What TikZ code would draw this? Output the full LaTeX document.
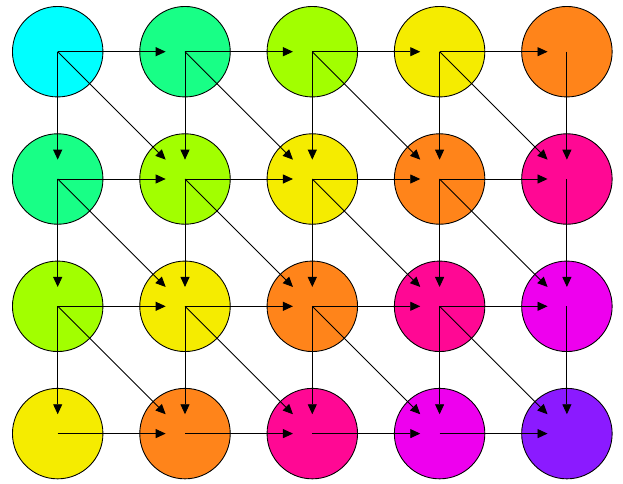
\documentclass[tikz,border=0pt]{standalone}
\usetikzlibrary{arrows.meta}
\definecolor{c0}{RGB}{0,255,255}
\definecolor{c1}{RGB}{24,255,134}
\definecolor{c2}{RGB}{162,255,0}
\definecolor{c3}{RGB}{245,236,0}
\definecolor{c4}{RGB}{255,132,26}
\definecolor{c5}{RGB}{255,8,148}
\definecolor{c6}{RGB}{238,0,238}
\definecolor{c7}{RGB}{139,26,255}
\begin{document}
\begin{tikzpicture}[x=0.02cm,y=-0.02cm,
    cell/.style={circle,draw,line width=0.5pt,minimum size=1.81cm,inner sep=0pt},
    tgt/.style={rectangle,minimum size=0.76cm,inner sep=0pt},
    link/.style={-{Triangle[length=2mm,width=1.8mm]},line width=0.5pt}]
    \useasboundingbox (0,0) rectangle (623,484);
    \foreach \r in {0,...,3}
        \foreach \c in {0,...,4} {
            \pgfmathtruncatemacro\k{\r+\c}
            \node[cell,fill=c\k] (n\r\c) at (57.7+127.3*\c,51.7+127.3*\r) {};
            \node[tgt] (t\r\c) at (n\r\c) {};
        }
    \foreach \r in {0,...,3}
        \foreach \c in {0,...,4} {
            \pgfmathtruncatemacro\nr{\r+1}
            \pgfmathtruncatemacro\nc{\c+1}
            \ifnum\c<4 \draw[link] (n\r\c.center) -- (t\r\nc); \fi
            \ifnum\r<3 \draw[link] (n\r\c.center) -- (t\nr\c); \fi
            \ifnum\r<3 \ifnum\c<4 \draw[link] (n\r\c.center) -- (t\nr\nc); \fi\fi
        }
\end{tikzpicture}
\end{document}
